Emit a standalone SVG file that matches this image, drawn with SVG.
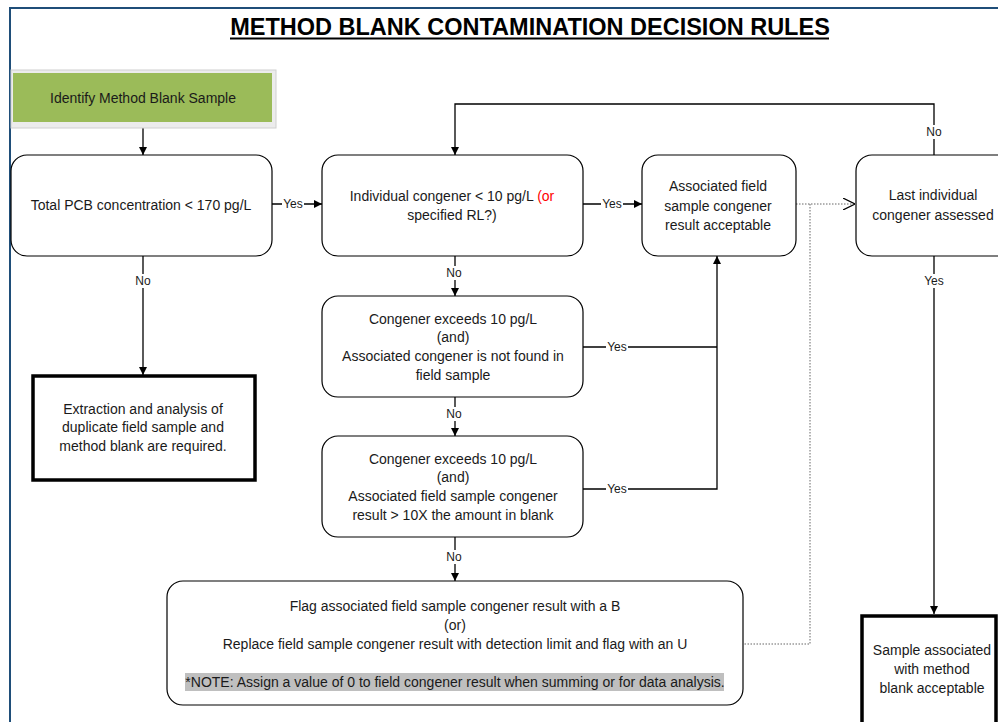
<svg xmlns="http://www.w3.org/2000/svg" width="998" height="722" viewBox="0 0 998 722">
<style>
text{font-family:"Liberation Sans",Arial,sans-serif;fill:#1a1a1a}
.t{font-size:14px;text-anchor:middle}
.l{font-size:12px;text-anchor:middle}
.box{fill:#fff;stroke:#000;stroke-width:1.2}
.thick{fill:#fff;stroke:#000;stroke-width:3.5}
.c{fill:none;stroke:#000;stroke-width:1.3}
.d{fill:none;stroke:#666;stroke-width:1;stroke-dasharray:1.5 1.5}
.lb{fill:#fff}
</style>
<defs>
<marker id="a" viewBox="0 0 10 10" refX="10" refY="5" markerWidth="8" markerHeight="8" markerUnits="userSpaceOnUse" orient="auto"><path d="M0,0L10,5L0,10z" fill="#000"/></marker>
<marker id="o" viewBox="0 0 10 10" refX="10" refY="5" markerWidth="12" markerHeight="12" markerUnits="userSpaceOnUse" orient="auto"><path d="M0,0L10,5L0,10" fill="none" stroke="#000" stroke-width="1"/></marker>
</defs>
<rect width="998" height="722" fill="#fff"/>
<rect x="10" y="8" width="1000" height="740" fill="none" stroke="#1f4e79" stroke-width="2"/>
<text x="530" y="35" style="font-size:23.5px;font-weight:bold;text-anchor:middle;fill:#000">METHOD BLANK CONTAMINATION DECISION RULES</text>
<line x1="230" y1="38.5" x2="829" y2="38.5" stroke="#000" stroke-width="2"/>

<g id="connectors">
<line class="c" x1="143" y1="122" x2="143" y2="155" marker-end="url(#a)"/>
<line class="c" x1="272" y1="204" x2="322" y2="204" marker-end="url(#a)"/>
<line class="c" x1="583" y1="204" x2="642" y2="204" marker-end="url(#a)"/>
<polyline class="c" points="934,155 934,104 455,104 455,155" marker-end="url(#a)"/>
<line class="c" x1="455" y1="256" x2="455" y2="296" marker-end="url(#a)"/>
<line class="c" x1="455" y1="397" x2="455" y2="436" marker-end="url(#a)"/>
<line class="c" x1="455" y1="537" x2="455" y2="581" marker-end="url(#a)"/>
<line class="c" x1="143" y1="256" x2="143" y2="375" marker-end="url(#a)"/>
<polyline class="c" points="583,347 717,347"/>
<polyline class="c" points="583,489 717,489 717,256" marker-end="url(#a)"/>
<line class="c" x1="934" y1="256" x2="934" y2="614" marker-end="url(#a)"/>
<line class="d" x1="796" y1="204" x2="855" y2="204" marker-end="url(#o)"/>
<polyline class="d" points="810,204 810,644 743,644"/>
<rect class="lb" x="282" y="197" width="22" height="14"/><text class="l" x="293" y="208">Yes</text>
<rect class="lb" x="601" y="197" width="22" height="14"/><text class="l" x="612" y="208">Yes</text>
<rect class="lb" x="606" y="340" width="22" height="14"/><text class="l" x="617" y="351">Yes</text>
<rect class="lb" x="606" y="482" width="22" height="14"/><text class="l" x="617" y="493">Yes</text>
<rect class="lb" x="923" y="125" width="22" height="14"/><text class="l" x="934" y="136">No</text>
<rect class="lb" x="923" y="274" width="22" height="14"/><text class="l" x="934" y="285">Yes</text>
<rect class="lb" x="132" y="274" width="22" height="14"/><text class="l" x="143" y="285">No</text>
<rect class="lb" x="444" y="266" width="22" height="14"/><text class="l" x="454" y="277">No</text>
<rect class="lb" x="444" y="407" width="22" height="14"/><text class="l" x="454" y="418">No</text>
<rect class="lb" x="444" y="550" width="22" height="14"/><text class="l" x="454" y="561">No</text>
</g>

<g id="start">
<rect x="11" y="70" width="265" height="58" fill="#ececec" stroke="#d0d0d0" stroke-width="1"/>
<rect x="13" y="73" width="259" height="49" fill="#9bbb59"/>
<text class="t" x="143" y="103">Identify Method Blank Sample</text>
</g>

<g id="total">
<rect class="box" x="11" y="155" width="261" height="101" rx="16"/>
<text class="t" x="141" y="210">Total PCB concentration &lt; 170 pg/L</text>
</g>

<g id="individual">
<rect class="box" x="322" y="155" width="261" height="101" rx="16"/>
<text class="t" x="452" y="201">Individual congener &lt; 10 pg/L <tspan fill="#ff0000">(or</tspan></text>
<text class="t" x="452" y="220" fill="#ff0000">specified RL?)</text>
</g>

<g id="acceptable">
<rect class="box" x="642" y="155" width="154" height="101" rx="16"/>
<text class="t" x="718" y="191">Associated field</text>
<text class="t" x="718" y="211">sample congener</text>
<text class="t" x="718" y="230">result acceptable</text>
</g>

<g id="last">
<rect class="box" x="856" y="155" width="160" height="101" rx="16"/>
<text class="t" x="933" y="200">Last individual</text>
<text class="t" x="933" y="220">congener assessed</text>
</g>

<g id="notfound">
<rect class="box" x="322" y="296" width="261" height="101" rx="16"/>
<text class="t" x="453" y="324">Congener exceeds 10 pg/L</text>
<text class="t" x="453" y="342">(and)</text>
<text class="t" x="453" y="361">Associated congener is not found in</text>
<text class="t" x="453" y="380">field sample</text>
</g>

<g id="tenx">
<rect class="box" x="322" y="436" width="261" height="101" rx="16"/>
<text class="t" x="453" y="464">Congener exceeds 10 pg/L</text>
<text class="t" x="453" y="482">(and)</text>
<text class="t" x="453" y="501">Associated field sample congener</text>
<text class="t" x="453" y="520">result &gt; 10X the amount in blank</text>
</g>

<g id="flag">
<rect class="box" x="167" y="581" width="576" height="124" rx="16"/>
<text class="t" x="455" y="611">Flag associated field sample congener result with a B</text>
<text class="t" x="455" y="630">(or)</text>
<text class="t" x="455" y="649">Replace field sample congener result with detection limit and flag with an U</text>
<rect x="185" y="673" width="539" height="18" fill="#bfbfbf"/>
<text class="t" x="455" y="687">*NOTE: Assign a value of 0 to field congener result when summing or for data analysis.</text>
</g>

<g id="extraction">
<rect class="thick" x="33" y="376" width="222" height="104"/>
<text class="t" x="143" y="414">Extraction and analysis of</text>
<text class="t" x="143" y="432">duplicate field sample and</text>
<text class="t" x="143" y="451">method blank are required.</text>
</g>

<g id="final">
<rect class="thick" x="862" y="616" width="134" height="120"/>
<text class="t" x="932" y="655">Sample associated</text>
<text class="t" x="932" y="674">with method</text>
<text class="t" x="932" y="693">blank acceptable</text>
</g>
</svg>
